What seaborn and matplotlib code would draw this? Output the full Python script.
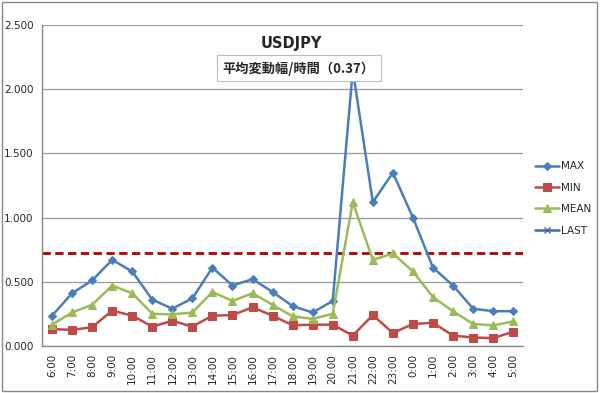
import seaborn as sns
import matplotlib.pyplot as plt
import pandas as pd
from matplotlib.lines import Line2D
from matplotlib.patches import Rectangle

# 時間帯ごとの変動幅データ
hours = ['6:00', '7:00', '8:00', '9:00', '10:00', '11:00', '12:00', '13:00',
         '14:00', '15:00', '16:00', '17:00', '18:00', '19:00', '20:00', '21:00',
         '22:00', '23:00', '0:00', '1:00', '2:00', '3:00', '4:00', '5:00']
max_vals = [0.235, 0.41, 0.51, 0.67, 0.58, 0.36, 0.29, 0.37, 0.61, 0.47, 0.52, 0.42,
            0.31, 0.26, 0.35, 2.15, 1.12, 1.35, 1.00, 0.61, 0.47, 0.29, 0.27, 0.27]
min_vals = [0.13, 0.125, 0.145, 0.275, 0.235, 0.15, 0.195, 0.15, 0.235, 0.24, 0.30, 0.235,
            0.16, 0.165, 0.165, 0.08, 0.24, 0.10, 0.17, 0.18, 0.08, 0.065, 0.06, 0.11]
mean_vals = [0.165, 0.26, 0.32, 0.47, 0.41, 0.25, 0.245, 0.26, 0.42, 0.35, 0.41, 0.32,
             0.23, 0.21, 0.25, 1.12, 0.67, 0.72, 0.58, 0.38, 0.27, 0.17, 0.16, 0.19]
avg_line = 0.72

df = pd.DataFrame({'pos': range(len(hours)), 'MAX': max_vals, 'MIN': min_vals, 'MEAN': mean_vals})

sns.set_style("white")
plt.rcParams['font.family'] = ['DejaVu Sans']

fig = plt.figure(figsize=(6, 3.93), dpi=100)
ax = fig.add_axes([0.07, 0.12, 0.802, 0.816])

series = [('MAX', '#4A7EBB', 'D', 4.5), ('MIN', '#BE4B48', 's', 5.5), ('MEAN', '#9BBB59', '^', 5.5)]
for name, color, marker, ms in series:
    sns.lineplot(data=df, x='pos', y=name, ax=ax, color=color, marker=marker,
                 markersize=ms, markeredgecolor=color, linewidth=1.8, label=name)

# 平均線（赤の破線）
ax.axhline(avg_line, color='#B00000', linewidth=2, linestyle=(0, (3, 1.6)), zorder=1)

ax.set_xlim(-0.5, len(hours) - 0.5)
ax.set_ylim(0, 2.5)
ax.set_yticks([0, 0.5, 1.0, 1.5, 2.0, 2.5])
ax.set_yticklabels([f'{v:.3f}' for v in [0, 0.5, 1.0, 1.5, 2.0, 2.5]], fontsize=7.5)
ax.set_xticks(range(len(hours)))
ax.set_xticklabels(hours, rotation=90, fontsize=7.5)
ax.set_xticks([i - 0.5 for i in range(len(hours) + 1)], minor=True)
ax.tick_params(axis='x', which='major', length=0, pad=6)
ax.tick_params(axis='x', which='minor', length=5, color='#888888', width=0.8)
ax.tick_params(axis='y', length=3, color='#888888', width=0.8, pad=3)
ax.set_xlabel('')
ax.set_ylabel('')
ax.grid(axis='y', color='#9a9a9a', linewidth=0.9)
ax.set_axisbelow(True)
for side in ['top', 'right']:
    ax.spines[side].set_visible(False)
for side in ['left', 'bottom']:
    ax.spines[side].set_color('#888888')
    ax.spines[side].set_linewidth(1)

# 凡例（LAST はデータなし）
handles, labels = ax.get_legend_handles_labels()
handles.append(Line2D([], [], color='#4A6A9A', marker='x', markersize=5, linewidth=1.8))
labels.append('LAST')
ax.legend(handles, labels, loc='upper left', bbox_to_anchor=(1.005, 0.605), frameon=False,
          fontsize=7.5, handlelength=2.3, handletextpad=0.2, labelspacing=1.1)

# タイトルとボックス
fig.text(0.485, 0.89, 'USDJPY', ha='center', va='center', fontsize=10.5, fontweight='bold')
fig.text(0.498, 0.826, '平均変動幅/時間（0.37）', ha='center', va='center', fontsize=9.5,
         fontweight='bold', family=['Noto Sans CJK JP', 'DejaVu Sans'],
         bbox=dict(boxstyle='square,pad=0.45', facecolor='white', edgecolor='#bbbbbb', linewidth=0.8))

# 外枠
fig.patches.append(Rectangle((0.004, 0.005), 0.991, 0.99, transform=fig.transFigure,
                             fill=False, edgecolor='#888888', linewidth=1))

plt.savefig('out.png', dpi=100)
